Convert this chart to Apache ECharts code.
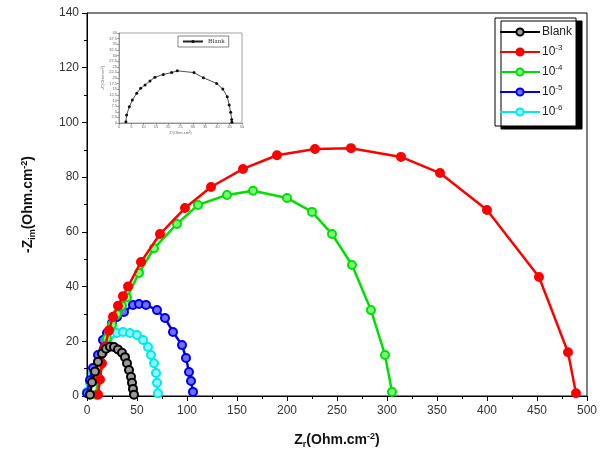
<!DOCTYPE html>
<html>
<head>
<meta charset="utf-8">
<script src="https://cdn.jsdelivr.net/npm/echarts@6/dist/echarts.min.js"></script>
<style>
  html, body { margin: 0; padding: 0; background: #fff; }
  #chart { width: 600px; height: 461px; }
</style>
</head>
<body>
<div id="chart"></div>
<script>
const myChart = echarts.init(document.getElementById('chart'));

// Nyquist points, [Zr, -Zim]
const blank = [[3, 0.5], [5, 5], [8, 9], [11, 12.5], [15, 15.5], [19, 17.3], [23, 18], [27, 17.9], [31, 17], [35, 15.8],
    [38, 14.2], [40, 12], [42, 9.5], [44, 7], [45, 4.8], [46, 2.6], [47, 0.5]];
const conc3 = [[11, 0.5], [13, 6], [15, 12], [18, 18], [22, 24], [26, 29], [31, 33], [36, 36.5], [41, 40], [54, 49],
    [73, 59.2], [98, 68.7], [124, 76.4], [156, 83], [190, 88], [228, 90.3], [264, 90.6], [314, 87.4], [353, 81.5],
    [400, 68], [452, 43.5], [481, 16], [489, 1]];
const conc4 = [[9, 0.5], [11, 6], [13, 11], [16, 16], [20, 21], [25, 26], [30, 30], [35, 33], [40, 36], [52, 45],
    [67, 54], [90, 62.9], [111, 69.8], [140, 73.5], [166, 75], [200, 72.4], [225, 67.3], [245, 59.2], [265, 47.9],
    [284, 31.4], [298, 15], [305, 1.5]];
const conc5 = [[0, 1], [3, 5.8], [6, 10.2], [11, 15], [16, 20.5], [20, 23], [25, 26.7], [30, 28.9], [37, 30.7],
    [46, 33.3], [52, 33.6], [59, 33.3], [70, 31.4], [78, 28.5], [86, 23.4], [95, 18.6], [99, 13.9], [102, 8.8],
    [104, 5.5], [106, 1.5]];
const conc6 = [[0, 1.5], [3, 4.8], [6, 8.4], [11, 12.4], [16, 16.1], [21, 19.4], [30, 23], [36, 23.4], [43, 23],
    [50, 22.3], [56, 20.5], [61, 17.9], [64, 15], [67, 12], [69, 8.4], [70, 4.8], [71, 1]];

// inset (Blank alone)
const insetBlank = [[2.8, 0.6], [3.1, 3.6], [4.2, 7.2], [5.4, 10.2], [7.2, 13.2], [8.8, 15.4], [10.6, 16.9],
    [12.6, 18.7], [14.6, 20.3], [18, 21.6], [21.4, 22.4], [23.7, 23.2], [30.5, 22.4], [34.3, 20.1], [39.7, 17.6],
    [42.2, 15.1], [44, 11.7], [44.8, 8], [45.4, 4.8], [45.8, 1.6], [45.9, 0.3]];

const seriesNames = ['Blank', 'c3', 'c4', 'c5', 'c6'];
const legendLabels = {Blank: 'Blank', c3: '10{sup|-3}', c4: '10{sup|-4}', c5: '10{sup|-5}', c6: '10{sup|-6}'};
const seriesData = [blank, conc3, conc4, conc5, conc6];
const lineColors = ['#000000', '#ff0000', '#00e000', '#0000ee', '#00e8f0'];
const fillColors = ['#9a9a9a', '#ff0000', '#7dff7d', '#7070ff', '#8ff8ff'];

const mainSeries = seriesNames.map((name, i) => ({
    name,
    type: 'line',
    data: seriesData[i],
    symbol: 'circle',
    symbolSize: 8,
    lineStyle: {color: lineColors[i], width: 2.5},
    itemStyle: {color: fillColors[i], borderColor: lineColors[i], borderWidth: 2},
    z: 5 - i,
    animation: false,
}));

const tinyLabel = {fontSize: 4, color: '#666', margin: 2};

const option = {
    animation: false,
    grid: [
        {left: 87, right: 12, top: 13, bottom: 65, show: true, borderColor: '#000', borderWidth: 1},
        {left: 119, top: 33, width: 123, height: 90, show: true, borderColor: '#666', borderWidth: 0.6,
            backgroundColor: '#fff'},
    ],
    legend: [
        {
            data: seriesNames,
            orient: 'vertical',
            left: 495,
            top: 18,
            width: 85,
            padding: [8, 4, 8, 4],
            itemWidth: 40,
            itemHeight: 9,
            itemGap: 6,
            backgroundColor: '#fff',
            borderColor: '#000',
            borderWidth: 1,
            shadowColor: '#000',
            shadowOffsetX: 6,
            shadowOffsetY: 3,
            formatter: (name) => legendLabels[name],
            textStyle: {
                fontFamily: 'Liberation Sans, Arial',
                fontSize: 12,
                color: '#222',
                padding: [0, 0, 0, -3],
                rich: {sup: {fontSize: 8, verticalAlign: 'top', padding: [0, 0, 8, 0]}},
            },
        },
        {
            data: ['insetBlank'],
            left: 178,
            top: 36,
            padding: [2, 4, 2, 4],
            itemWidth: 20,
            itemHeight: 4,
            borderColor: '#333',
            borderWidth: 0.6,
            backgroundColor: '#fff',
            formatter: () => 'Blank',
            textStyle: {fontFamily: 'Liberation Serif', fontSize: 7, color: '#333'},
        },
    ],
    xAxis: [
        {
            gridIndex: 0,
            type: 'value',
            min: 0,
            max: 500,
            interval: 50,
            name: 'Z{sub|r}(Ohm.cm{sup|-2})',
            nameLocation: 'middle',
            nameGap: 36,
            nameTextStyle: {
                fontFamily: 'Liberation Sans, Arial',
                fontSize: 14,
                fontWeight: 'bold',
                color: '#111',
                rich: {
                    sub: {fontSize: 9, fontWeight: 'bold', verticalAlign: 'bottom', padding: [8, 0, 0, 0]},
                    sup: {fontSize: 9, fontWeight: 'bold', verticalAlign: 'top', padding: [0, 0, 8, 0]},
                },
            },
            splitLine: {show: false},
            axisLine: {lineStyle: {color: '#000'}},
            axisTick: {length: 5, lineStyle: {color: '#000'}},
            minorTick: {show: true, splitNumber: 2, length: 3, lineStyle: {color: '#000'}},
            axisLabel: {fontFamily: 'Liberation Sans, Arial', fontSize: 12, color: '#333', margin: 9},
        },
        {
            gridIndex: 1,
            type: 'value',
            min: 0,
            max: 50,
            interval: 5,
            name: 'Z\'(Ohm.cm²)',
            nameLocation: 'middle',
            nameGap: 8,
            nameTextStyle: {fontSize: 4, color: '#666'},
            splitLine: {show: false},
            axisLine: {lineStyle: {color: '#666', width: 0.6}},
            axisTick: {length: 2, lineStyle: {color: '#666', width: 0.6}},
            axisLabel: tinyLabel,
        },
    ],
    yAxis: [
        {
            gridIndex: 0,
            type: 'value',
            min: 0,
            max: 140,
            interval: 20,
            name: '-Z{sub|im}(Ohm.cm{sup|-2})',
            nameLocation: 'middle',
            nameRotate: 90,
            nameGap: 50,
            nameTextStyle: {
                fontFamily: 'Liberation Sans, Arial',
                fontSize: 14,
                fontWeight: 'bold',
                color: '#111',
                rich: {
                    sub: {fontSize: 9, fontWeight: 'bold', verticalAlign: 'bottom', padding: [8, 0, 0, 0]},
                    sup: {fontSize: 9, fontWeight: 'bold', verticalAlign: 'top', padding: [0, 0, 8, 0]},
                },
            },
            splitLine: {show: false},
            axisLine: {lineStyle: {color: '#000'}},
            axisTick: {length: 5, lineStyle: {color: '#000'}},
            minorTick: {show: true, splitNumber: 2, length: 3, lineStyle: {color: '#000'}},
            axisLabel: {fontFamily: 'Liberation Sans, Arial', fontSize: 12, color: '#333', margin: 8},
        },
        {
            gridIndex: 1,
            type: 'value',
            min: 0,
            max: 40,
            interval: 2.5,
            name: '-Z"(Ohm.cm²)',
            nameLocation: 'middle',
            nameRotate: 90,
            nameGap: 10,
            nameTextStyle: {fontSize: 4, color: '#666'},
            splitLine: {show: false},
            axisLine: {lineStyle: {color: '#666', width: 0.6}},
            axisTick: {length: 2, lineStyle: {color: '#666', width: 0.6}},
            axisLabel: tinyLabel,
        },
    ],
    series: [
        ...mainSeries,
        {
            name: 'insetBlank',
            type: 'line',
            xAxisIndex: 1,
            yAxisIndex: 1,
            data: insetBlank,
            symbol: 'circle',
            symbolSize: 3,
            lineStyle: {color: '#222', width: 0.8},
            itemStyle: {color: '#111'},
            animation: false,
        },
    ],
};

myChart.setOption(option);
</script>
</body>
</html>
